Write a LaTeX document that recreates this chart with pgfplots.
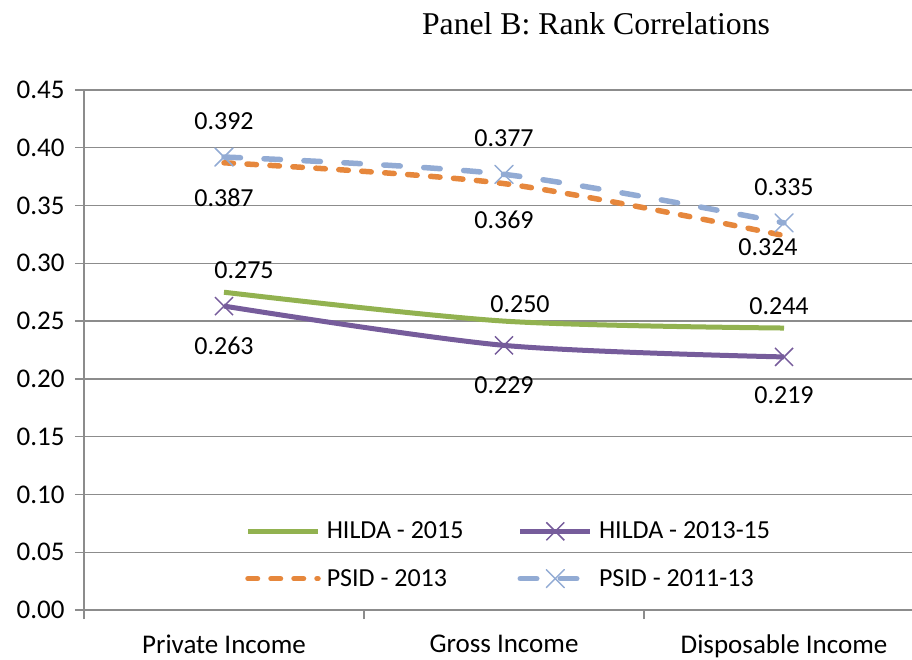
\documentclass[border=0pt]{standalone}
\usepackage{fontspec}
\setmainfont{Carlito}
\newfontfamily\titlefont{Liberation Serif}
\usepackage{pgfplots}
\pgfplotsset{compat=1.18}
\usepackage{pgfplotstable}

\definecolor{cgreen}{RGB}{146,178,80}
\definecolor{cpurple}{RGB}{118,92,155}
\definecolor{corange}{RGB}{230,135,60}
\definecolor{cblue}{RGB}{146,171,212}
\definecolor{cgrid}{RGB}{140,140,140}

% x: category index, y: value, dx/dy: label offset (pt)
\pgfplotstableread{
x y dx dy
0 0.275 20 22
1 0.250 16 17
2 0.244 -5 22
}\hildaA
\pgfplotstableread{
x y dx dy
0 0.263 0 -40
1 0.229 0 -40
2 0.219 0 -38
}\hildaB
\pgfplotstableread{
x y dx dy
0 0.387 0 -35
1 0.369 0 -36
2 0.324 -16 -12
}\psidA
\pgfplotstableread{
x y dx dy
0 0.392 0 36
1 0.377 0 36
2 0.335 0 36
}\psidB

\newcommand{\fsz}{\fontsize{26}{31}\selectfont}
\newcommand{\tsz}{\fontsize{27}{32}\selectfont}

\begin{document}
\begin{tikzpicture}
\begin{axis}[
  at={(0,0)}, anchor=south west,
  scale only axis,
  width=828pt, height=520pt,
  xmin=-0.5, xmax=2.457143,
  ymin=0, ymax=0.45,
  /pgf/number format/assume math mode=true,
  axis lines*=left,
  axis line style={cgrid, line width=1.3pt},
  ytick={0,0.05,0.10,0.15,0.20,0.25,0.30,0.35,0.40,0.45},
  scaled y ticks=false,
  ymajorgrids,
  grid style={cgrid, line width=1.3pt},
  tick align=outside,
  major tick length=9pt,
  tick style={cgrid, line width=1.3pt},
  tick label style={font=\tsz},
  yticklabel style={/pgf/number format/fixed, /pgf/number format/fixed zerofill, /pgf/number format/precision=2, xshift=-7pt},
  xtick={-0.5,0.5,1.5},
  xticklabels={},
  extra x ticks={0,1,2},
  extra x tick labels={Private Income, Gross Income, Disposable Income},
  extra x tick style={major tick length=0pt, xticklabel style={yshift=-21pt}},
  legend columns=2,
  legend cell align=left,
  legend style={draw=none, fill=none, font=\fsz, at={(0.1945,0.1058)}, anchor=west,
    inner xsep=0pt, inner ysep=0pt, nodes={inner sep=3pt}, row sep=23pt,
    /tikz/every even column/.append style={column sep=51pt},
    /tikz/every odd column/.append style={column sep=3pt}},
  legend image code/.code={\draw[mark repeat=2,mark phase=2] plot coordinates {(0pt,0pt) (35pt,0pt) (70pt,0pt)};},
  visualization depends on={\thisrow{dx} \as \lblx},
  visualization depends on={\thisrow{dy} \as \lbly},
  nodes near coords={\pgfmathprintnumber[fixed,fixed zerofill,precision=3]{\pgfplotspointmeta}},
  point meta=y,
  every node near coord/.append style={font=\fsz, text=black, anchor=center, xshift=\lblx pt, yshift=\lbly pt},
]
\addplot[cgreen, line width=5pt, smooth, no markers] table[x=x,y=y] {\hildaA};
\addlegendentry{HILDA - 2015}
\addplot[cpurple, line width=5pt, smooth, mark=x, mark size=12.7pt, mark options={line width=1.5pt, solid}] table[x=x,y=y] {\hildaB};
\addlegendentry{HILDA - 2013-15}
\addplot[corange, line width=5.5pt, smooth, line cap=round, dash pattern=on 9.5pt off 13.5pt, no markers] table[x=x,y=y] {\psidA};
\addlegendentry{PSID - 2013}
\addplot[cblue, line width=5.5pt, smooth, line cap=round, dash pattern=on 16.5pt off 23.5pt, mark=x, mark size=12.7pt, mark options={line width=1.5pt, solid}] table[x=x,y=y] {\psidB};
\addlegendentry{PSID - 2011-13}
\end{axis}
\node[font=\titlefont\fontsize{31.7}{38}\selectfont, anchor=base] at (512pt,575pt) {Panel B: Rank Correlations};
\pgfresetboundingbox
\useasboundingbox (-84pt,-50pt) rectangle (828pt,610pt);
\end{tikzpicture}
\end{document}
